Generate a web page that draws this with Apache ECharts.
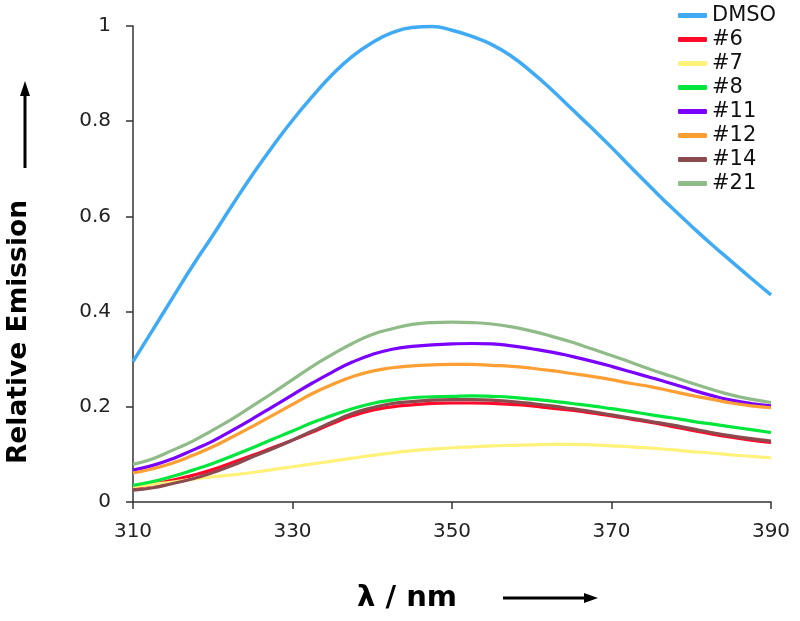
<!DOCTYPE html>
<html>
<head>
<meta charset="utf-8">
<script src="https://cdn.jsdelivr.net/npm/echarts@6/dist/echarts.min.js"></script>
<style>
html,body{margin:0;padding:0;background:#fff;}
#chart{width:800px;height:621px;}
</style>
</head>
<body>
<div id="chart"></div>
<script>
// Wavelengths (nm), 2.5 nm steps
var wavelengths = [310,312.5,315,317.5,320,322.5,325,327.5,330,332.5,335,337.5,340,342.5,345,347.5,350,
                   352.5,355,357.5,360,362.5,365,367.5,370,372.5,375,377.5,380,382.5,385,387.5,390];
// Relative emission per sample
var dmso = [0.295,0.362,0.430,0.497,0.560,0.625,0.688,0.747,0.802,0.852,0.898,0.936,0.965,0.986,0.997,0.999,0.991,
            0.978,0.961,0.936,0.903,0.866,0.826,0.786,0.745,0.702,0.660,0.619,0.580,0.542,0.506,0.470,0.435];
var s6   = [0.030,0.037,0.046,0.056,0.068,0.083,0.098,0.114,0.130,0.147,0.165,0.181,0.193,0.200,0.204,0.207,0.208,
            0.208,0.207,0.205,0.202,0.197,0.193,0.187,0.181,0.174,0.167,0.159,0.151,0.143,0.136,0.130,0.125];
var s7   = [0.032,0.037,0.042,0.048,0.053,0.057,0.062,0.068,0.074,0.080,0.086,0.092,0.098,0.103,0.108,0.111,0.114,
            0.116,0.118,0.119,0.120,0.121,0.121,0.120,0.118,0.116,0.113,0.110,0.106,0.103,0.099,0.096,0.093];
var s8   = [0.035,0.043,0.054,0.067,0.081,0.097,0.114,0.132,0.149,0.167,0.182,0.196,0.207,0.214,0.219,0.221,0.222,
            0.223,0.222,0.220,0.216,0.212,0.207,0.202,0.196,0.190,0.183,0.177,0.170,0.164,0.158,0.152,0.146];
var s11  = [0.067,0.077,0.091,0.109,0.128,0.151,0.175,0.200,0.225,0.250,0.273,0.294,0.310,0.321,0.327,0.330,0.332,
            0.333,0.332,0.328,0.322,0.315,0.306,0.296,0.285,0.273,0.261,0.249,0.236,0.224,0.214,0.207,0.202];
var s12  = [0.061,0.070,0.082,0.098,0.116,0.137,0.159,0.182,0.205,0.228,0.247,0.263,0.275,0.282,0.286,0.288,0.289,
            0.289,0.287,0.285,0.281,0.276,0.270,0.264,0.257,0.249,0.242,0.233,0.224,0.216,0.208,0.202,0.198];
var s14  = [0.025,0.030,0.039,0.049,0.062,0.077,0.095,0.112,0.130,0.149,0.168,0.186,0.198,0.207,0.211,0.214,0.215,
            0.215,0.214,0.211,0.207,0.202,0.196,0.190,0.183,0.176,0.169,0.162,0.154,0.146,0.139,0.133,0.128];
var s21  = [0.079,0.091,0.109,0.128,0.151,0.175,0.202,0.229,0.257,0.285,0.310,0.333,0.352,0.364,0.373,0.377,0.378,
            0.377,0.374,0.368,0.359,0.348,0.336,0.322,0.308,0.293,0.278,0.264,0.250,0.237,0.225,0.216,0.209];

var seriesNames = ['DMSO','#6','#7','#8','#11','#12','#14','#21'];
var seriesValues = [dmso, s6, s7, s8, s11, s12, s14, s21];
var seriesColors = ['#3FAAF5','#FF0A2A','#FFF27A','#00E63C','#7A00FF','#FF9F33','#8B4A4E','#8FBB88'];

var FONT = 'DejaVu Sans';

var chart = echarts.init(document.getElementById('chart'), null, {renderer:'canvas'});

var series = seriesNames.map(function(name, k){
  return {
    name: name,
    type: 'line',
    smooth: 0.5,
    showSymbol: false,
    symbol: 'none',
    lineStyle: { width: k === 0 ? 3.5 : 3.2, color: seriesColors[k] },
    itemStyle: { color: seriesColors[k] },
    data: wavelengths.map(function(w, i){ return [w, seriesValues[k][i]]; }),
    z: 2 + k
  };
});

chart.setOption({
  animation: false,
  backgroundColor: '#fff',
  grid: { left: 133, right: 29, top: 26, bottom: 119, containLabel: false },
  legend: {
    orient: 'vertical',
    left: 678,
    top: 5,
    padding: 0,
    itemWidth: 29,
    itemHeight: 5,
    itemGap: 3,
    icon: 'roundRect',
    data: seriesNames,
    textStyle: { fontFamily: FONT, fontSize: 21, color: '#111', lineHeight: 20.8 }
  },
  xAxis: {
    type: 'value',
    min: 310, max: 390, interval: 20,
    axisLine: { show: true, onZero: false, lineStyle: { color: '#333', width: 1.5 } },
    axisTick: { show: true, length: 7, lineStyle: { color: '#333', width: 1.5 } },
    splitLine: { show: false },
    axisLabel: { margin: 20, fontFamily: FONT, fontSize: 20, color: '#222' }
  },
  yAxis: {
    type: 'value',
    min: 0, max: 1, interval: 0.2,
    axisLine: { show: true, lineStyle: { color: '#333', width: 1.5 } },
    axisTick: { show: true, length: 7, lineStyle: { color: '#333', width: 1.5 } },
    splitLine: { show: false },
    axisLabel: { margin: 22, fontFamily: FONT, fontSize: 20, color: '#222' }
  },
  graphic: [
    {
      type: 'text',
      rotation: Math.PI / 2,
      x: 19, y: 332,
      style: { text: 'Relative Emission', fontFamily: FONT, fontWeight: 'bold', fontSize: 26.5, fill: '#000', align: 'center', verticalAlign: 'middle' }
    },
    { type: 'line', shape: { x1: 25, y1: 168, x2: 25, y2: 92 }, style: { stroke: '#000', lineWidth: 3 } },
    { type: 'polygon', shape: { points: [[25, 81], [20, 96], [30, 96]] }, style: { fill: '#000' } },
    {
      type: 'text',
      x: 357, y: 598,
      style: { text: 'λ / nm', fontFamily: FONT, fontWeight: 'bold', fontSize: 29, fill: '#000', align: 'left', verticalAlign: 'middle' }
    },
    { type: 'line', shape: { x1: 503, y1: 598, x2: 588, y2: 598 }, style: { stroke: '#000', lineWidth: 3 } },
    { type: 'polygon', shape: { points: [[598, 598], [584, 593], [584, 603]] }, style: { fill: '#000' } }
  ],
  series: series
});
</script>
</body>
</html>
